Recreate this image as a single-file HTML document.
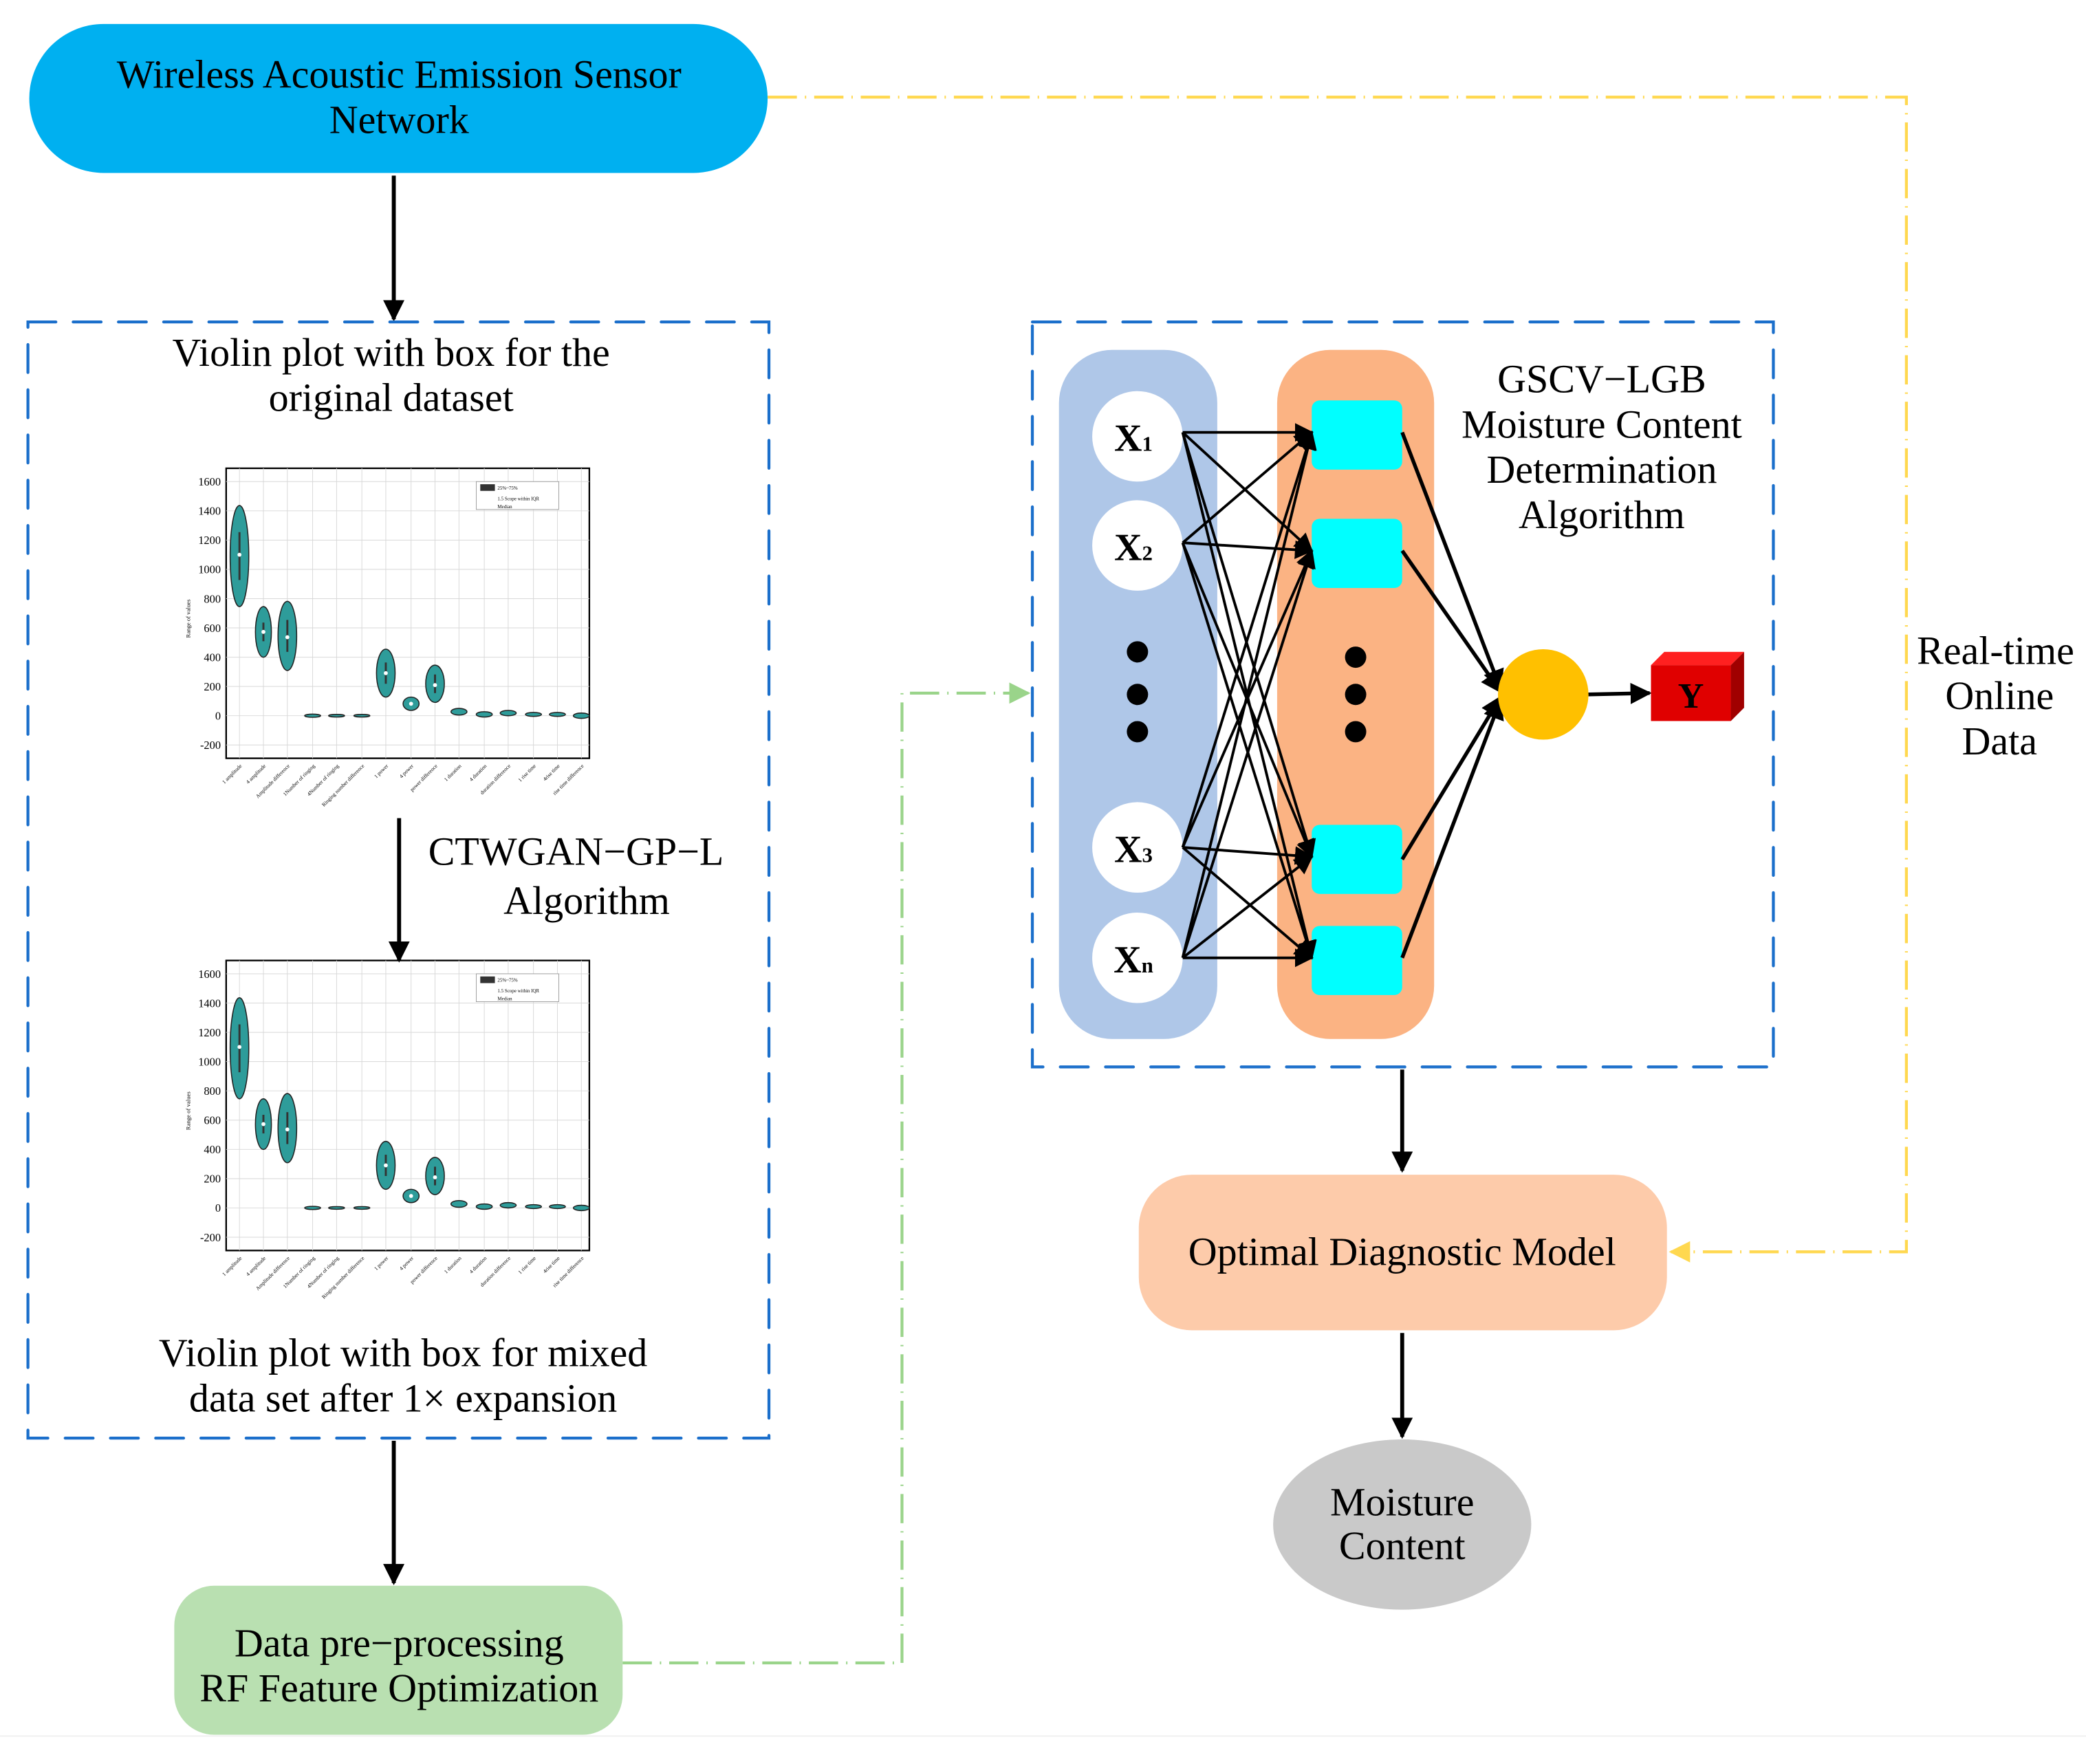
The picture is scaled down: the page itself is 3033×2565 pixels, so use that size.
<!DOCTYPE html>
<html><head><meta charset="utf-8"><style>
html,body{margin:0;padding:0;background:#fff}
svg{display:block}
text{font-family:"Liberation Serif",serif;fill:#000}
</style></head><body>
<svg width="3033" height="2565" viewBox="0 0 1568 1326" preserveAspectRatio="none" xmlns="http://www.w3.org/2000/svg">
<defs>
<marker id="ahb" viewBox="0 0 10 10" refX="9" refY="5" markerWidth="16" markerHeight="16" orient="auto" markerUnits="userSpaceOnUse"><path d="M0,0 L10,5 L0,10 z" fill="#000"/></marker>
<marker id="ahs" viewBox="0 0 10 10" refX="9" refY="5" markerWidth="14" markerHeight="14" orient="auto" markerUnits="userSpaceOnUse"><path d="M0,0 L10,5 L0,10 z" fill="#000"/></marker>
<marker id="ahg" viewBox="0 0 10 10" refX="9" refY="5" markerWidth="16" markerHeight="16" orient="auto" markerUnits="userSpaceOnUse"><path d="M0,0 L10,5 L0,10 z" fill="#9AD48A"/></marker>
<marker id="ahy" viewBox="0 0 10 10" refX="9" refY="5" markerWidth="16" markerHeight="16" orient="auto" markerUnits="userSpaceOnUse"><path d="M0,0 L10,5 L0,10 z" fill="#FFD84F"/></marker>
<g id="plot">
  <rect x="170" y="352" width="273" height="218" fill="#fff" stroke="#000" stroke-width="1.2"/>
  <g stroke="#d8d8d8" stroke-width="0.5">
    <line x1="170" y1="362" x2="443" y2="362"/><line x1="170" y1="384" x2="443" y2="384"/><line x1="170" y1="406" x2="443" y2="406"/><line x1="170" y1="428" x2="443" y2="428"/><line x1="170" y1="450" x2="443" y2="450"/><line x1="170" y1="472" x2="443" y2="472"/><line x1="170" y1="494" x2="443" y2="494"/><line x1="170" y1="516" x2="443" y2="516"/><line x1="170" y1="538" x2="443" y2="538"/><line x1="170" y1="560" x2="443" y2="560"/>
    <line x1="180" y1="352" x2="180" y2="570"/><line x1="198" y1="352" x2="198" y2="570"/><line x1="216" y1="352" x2="216" y2="570"/><line x1="235" y1="352" x2="235" y2="570"/><line x1="253" y1="352" x2="253" y2="570"/><line x1="272" y1="352" x2="272" y2="570"/><line x1="290" y1="352" x2="290" y2="570"/><line x1="309" y1="352" x2="309" y2="570"/><line x1="327" y1="352" x2="327" y2="570"/><line x1="345" y1="352" x2="345" y2="570"/><line x1="364" y1="352" x2="364" y2="570"/><line x1="382" y1="352" x2="382" y2="570"/><line x1="401" y1="352" x2="401" y2="570"/><line x1="419" y1="352" x2="419" y2="570"/><line x1="437" y1="352" x2="437" y2="570"/>
  </g>
  <g font-size="8.5" text-anchor="end"><text x="166" y="365">1600</text><text x="166" y="387">1400</text><text x="166" y="409">1200</text><text x="166" y="431">1000</text><text x="166" y="453">800</text><text x="166" y="475">600</text><text x="166" y="497">400</text><text x="166" y="519">200</text><text x="166" y="541">0</text><text x="166" y="563">-200</text></g>
  <text x="143" y="465" font-size="4.5" transform="rotate(-90 143 465)" text-anchor="middle">Range of values</text>
  <g fill="#2E9C9A" stroke="#222" stroke-width="0.8">
    <ellipse cx="180" cy="418" rx="7" ry="38"/>
    <ellipse cx="198" cy="475" rx="6" ry="19"/>
    <ellipse cx="216" cy="478" rx="7" ry="26"/>
    <ellipse cx="235" cy="538" rx="6" ry="1.2"/><ellipse cx="253" cy="538" rx="6" ry="1"/><ellipse cx="272" cy="538" rx="6" ry="1"/>
    <ellipse cx="290" cy="506" rx="7" ry="18"/>
    <ellipse cx="309" cy="529" rx="6" ry="5"/>
    <ellipse cx="327" cy="514" rx="7" ry="14"/>
    <ellipse cx="345" cy="535" rx="6" ry="2.5"/><ellipse cx="364" cy="537" rx="6" ry="2"/><ellipse cx="382" cy="536" rx="6" ry="2"/><ellipse cx="401" cy="537" rx="6" ry="1.5"/><ellipse cx="419" cy="537" rx="6" ry="1.5"/><ellipse cx="437" cy="538" rx="6" ry="2"/>
  </g>
  <g stroke="#333" stroke-width="1.5"><line x1="180" y1="400" x2="180" y2="436"/><line x1="198" y1="468" x2="198" y2="482"/><line x1="216" y1="466" x2="216" y2="490"/><line x1="290" y1="498" x2="290" y2="514"/><line x1="327" y1="507" x2="327" y2="521"/></g>
  <g fill="#fff"><circle cx="180" cy="417" r="1.5"/><circle cx="198" cy="475" r="1.5"/><circle cx="216" cy="479" r="1.5"/><circle cx="290" cy="506" r="1.5"/><circle cx="309" cy="529" r="1.5"/><circle cx="327" cy="515" r="1.5"/></g>
  <rect x="358" y="362" width="62" height="21" fill="#fff" stroke="#888" stroke-width="0.4"/>
  <rect x="361" y="364" width="11" height="5" fill="#333"/>
  <g font-size="3.6"><text x="374" y="368">25%~75%</text><text x="374" y="376">1.5 Scope within IQR</text><text x="374" y="382">Median</text></g>
  <g font-size="4" text-anchor="end">
    <text transform="translate(182 576) rotate(-45)">1 amplitude</text><text transform="translate(200 576) rotate(-45)">4 amplitude</text><text transform="translate(218 576) rotate(-45)">Amplitude difference</text><text transform="translate(237 576) rotate(-45)">1Number of ringing</text><text transform="translate(255 576) rotate(-45)">4Number of ringing</text><text transform="translate(274 576) rotate(-45)">Ringing number difference</text><text transform="translate(292 576) rotate(-45)">1 power</text><text transform="translate(311 576) rotate(-45)">4 power</text><text transform="translate(329 576) rotate(-45)">power difference</text><text transform="translate(347 576) rotate(-45)">1 duration</text><text transform="translate(366 576) rotate(-45)">4 duration</text><text transform="translate(384 576) rotate(-45)">duration difference</text><text transform="translate(403 576) rotate(-45)">1 rise time</text><text transform="translate(421 576) rotate(-45)">4rise time</text><text transform="translate(439 576) rotate(-45)">rise time difference</text>
  </g>
</g>
</defs>

<line x1="0" y1="1305" x2="1568" y2="1305" stroke="#f0f0f0" stroke-width="1"/>

<rect x="22" y="18" width="555" height="112" rx="56" fill="#00B0F0"/>
<text x="300" y="66" font-size="30" text-anchor="middle">Wireless Acoustic Emission Sensor</text>
<text x="300" y="100" font-size="30" text-anchor="middle">Network</text>
<line x1="296" y1="132" x2="296" y2="240" stroke="#000" stroke-width="3" marker-end="url(#ahb)"/>

<rect x="21" y="242" width="557" height="839" fill="none" stroke="#1B6FCB" stroke-width="2.2" stroke-dasharray="21 13" stroke-linecap="round"/>
<text x="294" y="275" font-size="30" text-anchor="middle">Violin plot with box for the</text>
<text x="294" y="309" font-size="30" text-anchor="middle">original dataset</text>
<use href="#plot"/>
<use href="#plot" transform="translate(0 370)"/>
<line x1="300" y1="615" x2="300" y2="722" stroke="#000" stroke-width="3" marker-end="url(#ahb)"/>
<text x="433" y="650" font-size="30" text-anchor="middle">CTWGAN−GP−L</text>
<text x="441" y="687" font-size="30" text-anchor="middle">Algorithm</text>
<text x="303" y="1027" font-size="30" text-anchor="middle">Violin plot with box for mixed</text>
<text x="303" y="1061" font-size="30" text-anchor="middle">data set after 1× expansion</text>
<line x1="296" y1="1083" x2="296" y2="1190" stroke="#000" stroke-width="3" marker-end="url(#ahb)"/>

<rect x="131" y="1192" width="337" height="112" rx="30" fill="#B9E0B1"/>
<text x="300" y="1245" font-size="30" text-anchor="middle">Data pre−processing</text>
<text x="300" y="1279" font-size="30" text-anchor="middle">RF Feature Optimization</text>
<polyline points="468,1250 678,1250 678,521 773,521" fill="none" stroke="#9AD48A" stroke-width="2.2" stroke-dasharray="22 6 1 6" marker-end="url(#ahg)"/>

<polyline points="577,73 1433,73 1433,941 1256,941" fill="none" stroke="#FFD84F" stroke-width="2.2" stroke-dasharray="22 6 1 6" marker-end="url(#ahy)"/>
<text x="1500" y="499" font-size="30" text-anchor="middle">Real-time</text>
<text x="1503" y="533" font-size="30" text-anchor="middle">Online</text>
<text x="1503" y="567" font-size="30" text-anchor="middle">Data</text>

<rect x="776" y="242" width="557" height="560" fill="none" stroke="#1B6FCB" stroke-width="2.2" stroke-dasharray="21 13" stroke-linecap="round"/>
<rect x="796" y="263" width="119" height="518" rx="40" fill="#AFC7E8"/>
<rect x="960" y="263" width="118" height="518" rx="40" fill="#FBB383"/>
<g fill="#fff"><circle cx="855" cy="328" r="34"/><circle cx="855" cy="410" r="34"/><circle cx="855" cy="637" r="34"/><circle cx="855" cy="720" r="34"/></g>
<g font-size="29" font-weight="bold" text-anchor="middle">
<text x="852" y="339">X<tspan font-size="16">1</tspan></text>
<text x="852" y="421">X<tspan font-size="16">2</tspan></text>
<text x="852" y="648">X<tspan font-size="16">3</tspan></text>
<text x="852" y="731">X<tspan font-size="16">n</tspan></text>
</g>
<g fill="#000"><circle cx="855" cy="490" r="8"/><circle cx="855" cy="522" r="8"/><circle cx="855" cy="550" r="8"/><circle cx="1019" cy="494" r="8"/><circle cx="1019" cy="522" r="8"/><circle cx="1019" cy="550" r="8"/></g>
<g fill="#00FFFF"><rect x="986" y="301" width="68" height="52" rx="6"/><rect x="986" y="390" width="68" height="52" rx="6"/><rect x="986" y="620" width="68" height="52" rx="6"/><rect x="986" y="696" width="68" height="52" rx="6"/></g>
<g stroke="#000" stroke-width="2" marker-end="url(#ahs)">
<line x1="889" y1="325" x2="986" y2="325"/><line x1="889" y1="325" x2="986" y2="414"/><line x1="889" y1="325" x2="986" y2="644"/><line x1="889" y1="325" x2="986" y2="720"/>
<line x1="889" y1="408" x2="986" y2="325"/><line x1="889" y1="408" x2="986" y2="414"/><line x1="889" y1="408" x2="986" y2="644"/><line x1="889" y1="408" x2="986" y2="720"/>
<line x1="889" y1="637" x2="986" y2="325"/><line x1="889" y1="637" x2="986" y2="414"/><line x1="889" y1="637" x2="986" y2="644"/><line x1="889" y1="637" x2="986" y2="720"/>
<line x1="889" y1="720" x2="986" y2="325"/><line x1="889" y1="720" x2="986" y2="414"/><line x1="889" y1="720" x2="986" y2="644"/><line x1="889" y1="720" x2="986" y2="720"/>
</g>
<g stroke="#000" stroke-width="2.8" marker-end="url(#ahb)">
<line x1="1054" y1="325" x2="1128" y2="518"/><line x1="1054" y1="414" x2="1128" y2="520"/><line x1="1054" y1="646" x2="1128" y2="524"/><line x1="1054" y1="720" x2="1128" y2="526"/>
<line x1="1194" y1="522" x2="1240" y2="521"/>
</g>
<circle cx="1160" cy="522" r="34" fill="#FFC000"/>
<polygon points="1241,500 1251,490 1311,490 1301,500" fill="#FF2020"/>
<polygon points="1301,500 1311,490 1311,532 1301,542" fill="#A00000"/>
<rect x="1241" y="500" width="60" height="42" fill="#E00000"/>
<text x="1271" y="532" font-size="27" font-weight="bold" text-anchor="middle">Y</text>
<g font-size="30" text-anchor="middle"><text x="1204" y="295">GSCV−LGB</text><text x="1204" y="329">Moisture Content</text><text x="1204" y="363">Determination</text><text x="1204" y="397">Algorithm</text></g>

<line x1="1054" y1="804" x2="1054" y2="880" stroke="#000" stroke-width="3" marker-end="url(#ahb)"/>
<rect x="856" y="883" width="397" height="117" rx="40" fill="#FDCBAA"/>
<text x="1054" y="951" font-size="30" text-anchor="middle">Optimal Diagnostic Model</text>
<line x1="1054" y1="1002" x2="1054" y2="1080" stroke="#000" stroke-width="3" marker-end="url(#ahb)"/>
<ellipse cx="1054" cy="1146" rx="97" ry="64" fill="#C9C9C9"/>
<text x="1054" y="1139" font-size="30" text-anchor="middle">Moisture</text>
<text x="1054" y="1172" font-size="30" text-anchor="middle">Content</text>
</svg>
</body></html>
